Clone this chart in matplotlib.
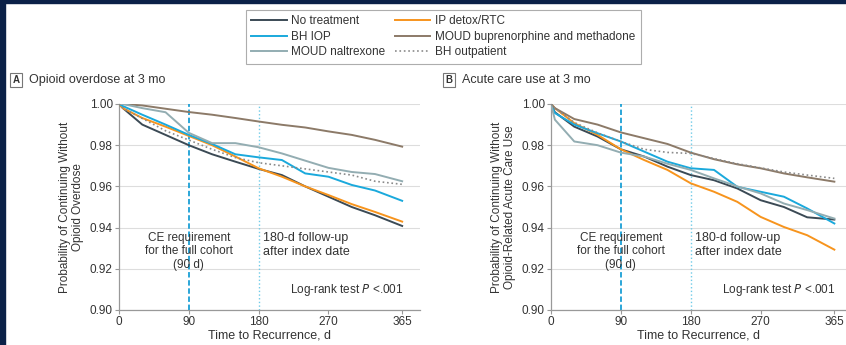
import numpy as np
import matplotlib.pyplot as plt
from matplotlib.patches import Rectangle

plt.rcParams['font.family'] = ['Liberation Sans', 'DejaVu Sans']

# ---- data (day, survival) ----
days = [0, 5, 30, 60, 90, 120, 150, 180, 210, 240, 270, 300, 330, 365]

# panel A: opioid overdose
a_none = [1.000, 0.998, 0.990, 0.985, 0.980, 0.9756, 0.972, 0.9685, 0.9655, 0.960, 0.955, 0.950, 0.946, 0.9408]
a_ip = [1.000, 0.998, 0.9932, 0.989, 0.9845, 0.980, 0.9745, 0.9688, 0.9647, 0.960, 0.9558, 0.9514, 0.9476, 0.9429]
a_iop = [1.000, 0.999, 0.9948, 0.990, 0.985, 0.9806, 0.9756, 0.9741, 0.9728, 0.9663, 0.9647, 0.9607, 0.958, 0.953]
a_bup = [1.000, 1.000, 0.9993, 0.9977, 0.9961, 0.9948, 0.9932, 0.9915, 0.9899, 0.9886, 0.9867, 0.985, 0.9826, 0.9793]
a_nal = [1.000, 1.000, 0.998, 0.996, 0.986, 0.981, 0.981, 0.979, 0.976, 0.9725, 0.969, 0.967, 0.966, 0.9625]
a_bho = [1.000, 0.998, 0.993, 0.987, 0.9825, 0.978, 0.974, 0.9715, 0.970, 0.9685, 0.967, 0.9655, 0.9625, 0.961]

# panel B: acute care use
b_none = [1.000, 0.996, 0.989, 0.9842, 0.978, 0.9745, 0.9696, 0.9655, 0.963, 0.959, 0.9533, 0.950, 0.945, 0.9439]
b_ip = [1.000, 0.998, 0.9907, 0.985, 0.978, 0.9728, 0.968, 0.9615, 0.9574, 0.9525, 0.9452, 0.9403, 0.9363, 0.9293]
b_iop = [1.000, 0.9956, 0.990, 0.9858, 0.9818, 0.9769, 0.972, 0.9688, 0.968, 0.9598, 0.9574, 0.955, 0.9493, 0.942]
b_bup = [1.000, 0.998, 0.9927, 0.990, 0.9862, 0.9834, 0.9806, 0.9764, 0.9732, 0.9707, 0.9688, 0.9663, 0.9644, 0.9623]
b_nal = [1.000, 0.9924, 0.9818, 0.980, 0.9764, 0.9745, 0.971, 0.968, 0.9639, 0.960, 0.9566, 0.9517, 0.9485, 0.9444]
b_bho = [1.000, 0.998, 0.991, 0.986, 0.9818, 0.978, 0.9765, 0.976, 0.9735, 0.971, 0.969, 0.967, 0.9655, 0.9639]

names = ['No treatment', 'IP detox/RTC', 'BH IOP', 'MOUD buprenorphine and methadone',
         'MOUD naltrexone', 'BH outpatient']
colors = ['#3b4a55', '#f7941d', '#1aa9dc', '#8c7a68', '#93adb2', '#8a8a8a']
styles = ['-', '-', '-', '-', '-', ':']

xticks = [0, 90, 180, 270, 365]
yticks = [0.90, 0.92, 0.94, 0.96, 0.98, 1.00]
txt_col = '#333333'

fig = plt.figure(figsize=(8.46, 3.45), dpi=100)
fig.patches.append(Rectangle((0, 0), 5 / 846, 1, transform=fig.transFigure, color='#0b2148', zorder=10))
fig.patches.append(Rectangle((0, 1 - 3 / 345), 1, 3 / 345, transform=fig.transFigure, color='#0b2148', zorder=10))


def draw_panel(ax, series, xmax, ylabel):
    for vals, nm, c, ls in zip(series, names, colors, styles):
        ax.plot(days, vals, color=c, ls=ls, lw=1.4 if ls == '-' else 1.2, label=nm, zorder=3)
    ax.axvline(90, color='#1a9fd5', ls=(0, (3, 1.5)), lw=1.3, zorder=2)
    ax.axvline(180, color='#6fcbe8', ls=':', lw=1.0, zorder=2)
    ax.set_xlim(0, xmax)
    ax.set_ylim(0.90, 1.00)
    ax.set_xticks(xticks)
    ax.set_yticks(yticks)
    ax.set_yticklabels([f'{v:.2f}' for v in yticks])
    ax.grid(axis='y', color='#dddddd', lw=0.8, zorder=0)
    for s in ['top', 'right']:
        ax.spines[s].set_visible(False)
    for s in ['left', 'bottom']:
        ax.spines[s].set_color('#999999')
        ax.spines[s].set_linewidth(0.9)
    ax.tick_params(colors='#999999', labelcolor=txt_col, labelsize=8.5, length=3, width=0.8, pad=1.5)
    ax.set_xlabel('Time to Recurrence, d', fontsize=9, color=txt_col, labelpad=1)
    ax.set_ylabel(ylabel, fontsize=8.5, color=txt_col, labelpad=4, linespacing=1.1)
    ax.text(90, 0.9285, 'CE requirement\nfor the full cohort\n(90 d)', ha='center', va='center',
            fontsize=8.5, color=txt_col, linespacing=1.15, zorder=4)
    ax.text(185, 0.9315, '180-d follow-up\nafter index date', ha='left', va='center',
            fontsize=9, color=txt_col, linespacing=1.15, zorder=4)
    ax.text(367, 0.9095, 'Log-rank test $\\it{P}$ <.001', ha='right', va='center',
            fontsize=8.5, color=txt_col, zorder=4)


ax1 = fig.add_axes([119 / 846, 1 - 310 / 345, 301 / 846, 206 / 345])
draw_panel(ax1, [a_none, a_ip, a_iop, a_bup, a_nal, a_bho], 388,
           'Probability of Continuing Without\nOpioid Overdose')
ax2 = fig.add_axes([551 / 846, 1 - 310 / 345, 295 / 846, 206 / 345])
draw_panel(ax2, [b_none, b_ip, b_iop, b_bup, b_nal, b_bho], 380,
           'Probability of Continuing Without\nOpioid-Related Acute Care Use')

# panel titles
for px, letter, title in [(16, 'A', 'Opioid overdose at 3 mo'), (449, 'B', 'Acute care use at 3 mo')]:
    fig.text(px / 846, 1 - 80 / 345, letter, ha='center', va='center', fontsize=7, fontweight='bold',
             color=txt_col, bbox=dict(boxstyle='square,pad=0.25', fc='white', ec='#777777', lw=0.8))
    fig.text((px + 13) / 846, 1 - 80 / 345, title, ha='left', va='center', fontsize=9, color=txt_col)

handles, labels = ax1.get_legend_handles_labels()
order = [0, 2, 4, 1, 3, 5]
leg = fig.legend([handles[i] for i in order], [labels[i] for i in order], ncol=2,
                 loc='upper left', bbox_to_anchor=(240 / 846, 1 - 4 / 345), frameon=True,
                 fontsize=8.5, handlelength=3.0, handletextpad=0.4, columnspacing=0.8,
                 labelspacing=0.3, borderpad=0.45, fancybox=False)
leg.get_frame().set_edgecolor('#999999')
leg.get_frame().set_linewidth(0.8)
for t in leg.get_texts():
    t.set_color(txt_col)

fig.savefig('out.png', dpi=100, facecolor='white')
